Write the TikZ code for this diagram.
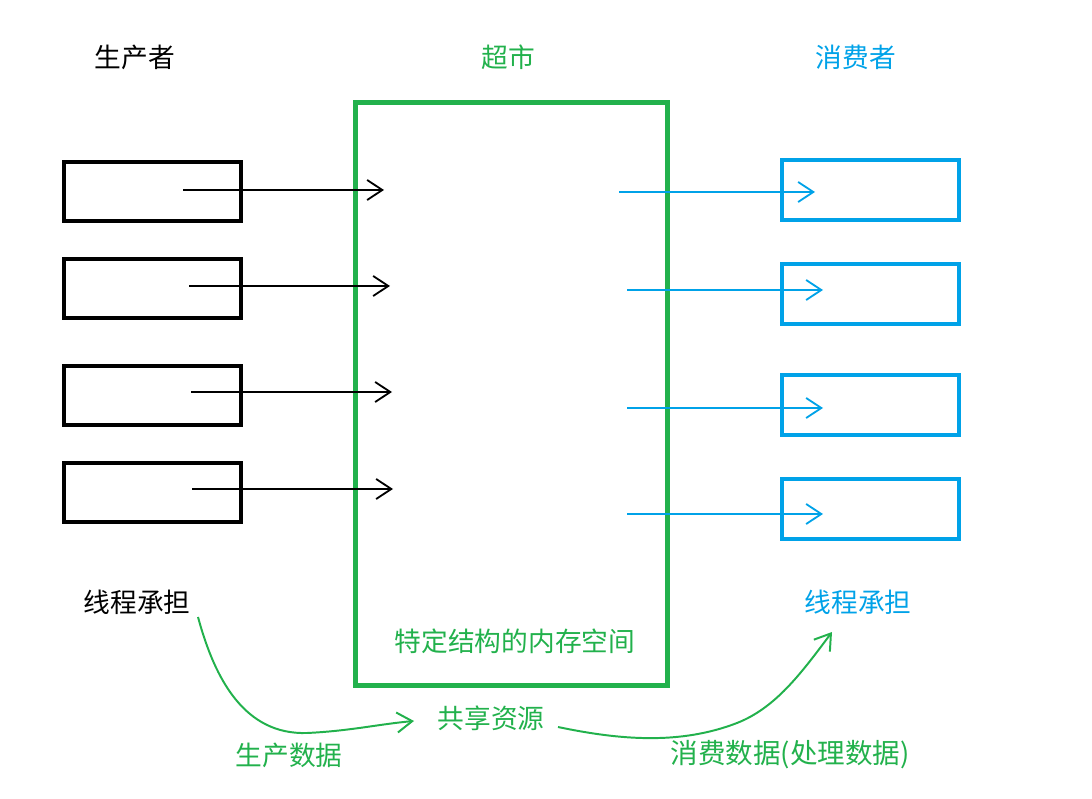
\documentclass[tikz,border=0pt]{standalone}
\usepackage{fontspec}
\setmainfont{Noto Sans CJK SC}
\usepackage{tikz}
\usetikzlibrary{arrows.meta}
\definecolor{paintgreen}{RGB}{34,177,76}
\definecolor{paintblue}{RGB}{0,162,232}

\begin{document}
\begin{tikzpicture}[x=0.025cm, y=-0.025cm, font=\fontsize{19}{22}\selectfont, >={Straight Barb[length=3.8mm,width=5mm]},
  prod/.style = {draw, line width=2.9pt, minimum width=4.425cm, minimum height=1.475cm, inner sep=0pt},
  cons/.style = {draw=paintblue, line width=2.9pt, minimum width=4.425cm, minimum height=1.5cm, inner sep=0pt},
  feed/.style = {->, line width=1.3pt},
  flow/.style = {->, paintgreen, line width=1.4pt}]
\useasboundingbox (0,0) rectangle (1092,799);
% titles
\node (t1) at (135,57) {生产者};
\node[paintgreen] (t2) at (508,57) {超市};
\node[paintblue] (t3) at (856,57) {消费者};
% shared memory
\node[draw=paintgreen, line width=3.6pt, minimum width=7.8cm, minimum height=14.575cm] (m) at (511.5,394) {};
\node[paintgreen] (mem) at (515,641) {特定结构的内存空间};
% producers
\node[prod] (p1) at (152.5,191.5) {};
\node[prod] (p2) at (152.5,288.5) {};
\node[prod] (p3) at (152.5,395.5) {};
\node[prod] (p4) at (152.5,492.5) {};
% consumers
\node[cons] (c1) at (870.5,190) {};
\node[cons] (c2) at (870.5,294) {};
\node[cons] (c3) at (870.5,405) {};
\node[cons] (c4) at (870.5,509) {};
% arrow ends
\coordinate (a1) at (183,190); \coordinate (b1) at (384,190);
\coordinate (a2) at (189,286); \coordinate (b2) at (390,286);
\coordinate (a3) at (191,392); \coordinate (b3) at (392,392);
\coordinate (a4) at (192,489); \coordinate (b4) at (393,489);
\coordinate (d1) at (619,192); \coordinate (e1) at (815,192);
\coordinate (d2) at (627,290); \coordinate (e2) at (823,290);
\coordinate (d3) at (627,408); \coordinate (e3) at (823,408);
\coordinate (d4) at (627,514); \coordinate (e4) at (823,514);
\draw[feed] (a1) -- (b1); \draw[feed] (a2) -- (b2); \draw[feed] (a3) -- (b3); \draw[feed] (a4) -- (b4);
\draw[feed, paintblue] (d1) -- (e1); \draw[feed, paintblue] (d2) -- (e2); \draw[feed, paintblue] (d3) -- (e3); \draw[feed, paintblue] (d4) -- (e4);
% threads and data flow
\node (w1) at (137,602) {线程承担};
\node[paintblue] (w2) at (858,602) {线程承担};
\node[paintgreen] (res) at (491,718) {共享资源};
\node[paintgreen] (put) at (289,755) {生产数据};
\node[paintgreen, font=\fontsize{19.6}{22}\selectfont] (get) at (790,755) {消费数据(处理数据)};
\coordinate (f1) at (198,617); \coordinate (f0) at (414,721);
\coordinate (f2) at (558,727); \coordinate (f3) at (832,632);
\draw[flow] (f1) .. controls (215,680) and (245,735) .. (307,733) .. controls (350,731) and (380,724) .. (f0);
\draw[flow] (f2) .. controls (620,740) and (680,745) .. (737,723) .. controls (775,708) and (800,675) .. (f3);
\end{tikzpicture}
\end{document}
